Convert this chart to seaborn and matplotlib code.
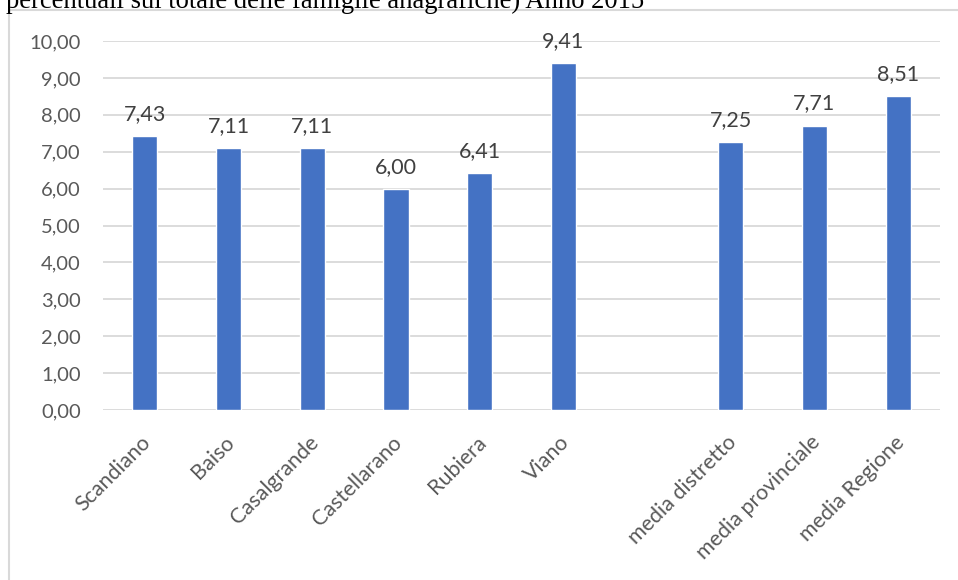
import matplotlib
matplotlib.use("Agg")
import matplotlib.pyplot as plt
from matplotlib.lines import Line2D
from matplotlib.transforms import ScaledTranslation
import seaborn as sns
import pandas as pd

# Comuni del distretto e medie di riferimento
comuni = ["Scandiano", "Baiso", "Casalgrande", "Castellarano", "Rubiera", "Viano"]
valori_comuni = [7.43, 7.11, 7.11, 6.00, 6.41, 9.41]
medie = ["media distretto", "media provinciale", "media Regione"]
valori_medie = [7.25, 7.71, 8.51]
yticks = [0, 1, 2, 3, 4, 5, 6, 7, 8, 9, 10]
titolo = "percentuali sul totale delle famiglie anagrafiche) Anno 2015"

categorie = comuni + medie
valori = valori_comuni + valori_medie
ordine = comuni + [" "] + medie  # slot vuoto tra comuni e medie

df = pd.DataFrame({"categoria": categorie, "valore": valori})

sns.set_theme(style="white")
plt.rcParams["font.family"] = ["Lato", "DejaVu Sans"]

W, H = 958, 580
fig = plt.figure(figsize=(W / 100, H / 100), dpi=100)
ax = fig.add_axes([103 / W, (H - 410) / H, (940 - 103) / W, (410 - 41) / H])

sns.barplot(data=df, x="categoria", y="valore", order=ordine, color="#4472C4",
            saturation=1, width=0.3, ax=ax, errorbar=None)

ax.set_ylim(0, 10)
ax.set_yticks(yticks)
ax.set_yticklabels([f"{v:.2f}".replace(".", ",") for v in yticks],
                   color="#595959", fontsize=14.5)
ax.yaxis.grid(True, color="#d9d9d9", linewidth=1.3)
ax.set_axisbelow(True)
for s in ax.spines.values():
    s.set_visible(False)
ax.tick_params(axis="both", length=0)
ax.tick_params(axis="y", pad=16)
ax.tick_params(axis="x", pad=16)
ax.set_xlabel("")
ax.set_ylabel("")
ax.set_xticks(range(len(ordine)))
ax.set_xticklabels(ordine, rotation=45, ha="right", va="top",
                   rotation_mode="anchor", color="#595959", fontsize=15.5)
shift = ScaledTranslation(-4 / 100, 0, fig.dpi_scale_trans)
for lbl in ax.get_xticklabels():
    lbl.set_transform(lbl.get_transform() + shift)

# etichette dei valori sopra le barre
for cat, v in zip(categorie, valori):
    ax.annotate(f"{v:.2f}".replace(".", ","), xy=(ordine.index(cat), v),
                xytext=(0, 11.5), textcoords="offset points",
                ha="center", va="baseline", color="#404040", fontsize=15.5)

# cornice del grafico
fig.add_artist(Line2D([9 / W, 9 / W], [0, (H - 10) / H], color="#d9d9d9",
                      linewidth=1.5, transform=fig.transFigure))
fig.add_artist(Line2D([9 / W, 1], [(H - 10) / H, (H - 10) / H], color="#d9d9d9",
                      linewidth=1.5, transform=fig.transFigure))

fig.text(6 / W, (H - 8.5) / H, titolo, family="Liberation Serif", fontsize=19.2,
         color="black", ha="left", va="baseline")

fig.savefig("out.png", dpi=100, facecolor="white")
